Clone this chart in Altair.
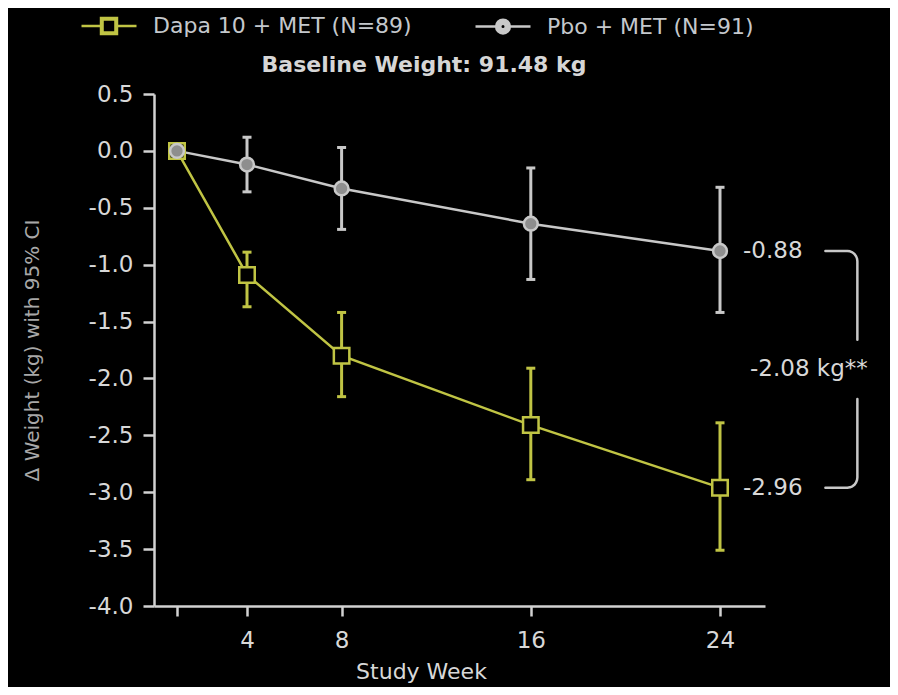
import altair as alt
import numpy as np
import pandas as pd

# ---------------- data ----------------
WEEKS = [0, 4, 8, 16, 24]
SERIES = ["Dapa 10 + MET (N=89)", "Pbo + MET (N=91)"]
DAPA_MEAN = [0.0, -1.09, -1.80, -2.41, -2.96]
DAPA_LO = [None, -1.37, -2.16, -2.89, -3.51]
DAPA_HI = [None, -0.89, -1.42, -1.91, -2.39]
PBO_MEAN = [0.0, -0.12, -0.33, -0.64, -0.88]
PBO_LO = [None, -0.36, -0.69, -1.13, -1.42]
PBO_HI = [None, 0.12, 0.03, -0.15, -0.32]

Y_TICKS = [0.5, 0.0, -0.5, -1.0, -1.5, -2.0, -2.5, -3.0, -3.5, -4.0]
X_TICKS = [0, 4, 8, 16, 24]
END_VALUES = [-0.88, -2.96]
END_LABELS = ["-0.88", "-2.96"]
DIFF_LABEL = "-2.08 kg**"
BASELINE_TEXT = "Baseline Weight: 91.48 kg"
Y_TITLE = "\u0394 Weight (kg) with 95% CI"
X_TITLE = "Study Week"

# ---------------- style ----------------
FONT = "DejaVu Sans"
DAPA_C = "#c0c444"
PBO_C = "#c8c8c8"
AXIS_C = "#d2d2d2"
TEXT_C = "#d8d8d8"

rows = []
for s, m, lo, hi in [(SERIES[0], DAPA_MEAN, DAPA_LO, DAPA_HI),
                     (SERIES[1], PBO_MEAN, PBO_LO, PBO_HI)]:
    for w, v, l, h in zip(WEEKS, m, lo, hi):
        rows.append({"series": s, "week": w, "value": v, "lo": l, "hi": h})
df = pd.DataFrame(rows)

xscale = alt.Scale(domain=[-1.31, 0, 4, 24, 25.9], range=[0, 23, 93, 566, 611],
                   nice=False, zero=False)
yscale = alt.Scale(domain=[-4.0, 0.5], nice=False, zero=False)
cscale = alt.Scale(domain=SERIES, range=[DAPA_C, PBO_C])

xaxis = alt.Axis(values=X_TICKS, title=X_TITLE, grid=False,
                 labelExpr="datum.value == 0 ? '' : datum.label",
                 labelFontSize=23, labelColor=TEXT_C, labelPadding=13,
                 titleFontSize=22, titleColor=TEXT_C, titleFontWeight="normal",
                 titleX=267, titlePadding=9,
                 domainColor=AXIS_C, domainWidth=2.5, tickColor=AXIS_C,
                 tickWidth=2.5, tickSize=10)
yaxis = alt.Axis(values=Y_TICKS, title=Y_TITLE, grid=False,
                 labelExpr="replace(format(datum.value, '.1f'), '\u2212', '-')",
                 labelFontSize=23, labelColor=TEXT_C, labelPadding=10,
                 titleFontSize=20, titleColor="#a8a8a8", titleFontWeight="normal",
                 titlePadding=46,
                 domainColor=AXIS_C, domainWidth=2.5, tickColor=AXIS_C,
                 tickWidth=2.5, tickSize=11)

# legend symbols: line stubs + hollow marker (inner sub-path wound the other way)
SQ_PATH = ("M-2,0L-0.58,0M0.58,0L2,0"
           "M-0.58,-0.58L0.58,-0.58L0.58,0.58L-0.58,0.58Z"
           "M-0.47,-0.47L-0.47,0.47L0.47,0.47L0.47,-0.47Z")
CI_PATH = ("M-2,0L-0.5,0M0.5,0L2,0"
           "M0.5,0A0.5,0.5,0,1,1,-0.5,0A0.5,0.5,0,1,1,0.5,0Z"
           "M0.2,0A0.2,0.2,0,1,0,-0.2,0A0.2,0.2,0,1,0,0.2,0Z")
leg = alt.Legend(orient="none", legendX=-60, legendY=-83, direction="horizontal",
                 title=BASELINE_TEXT, titleOrient="bottom", titleAnchor="middle",
                 titleFontSize=22, titleFontWeight="bold", titleColor="#d6d6d6",
                 titleLimit=900, titlePadding=16,
                 labelFontSize=22, labelColor="#c4c8cc", labelLimit=500,
                 labelOffset=29, columnPadding=58, symbolSize=756,
                 symbolStrokeWidth=2.5, symbolType=SQ_PATH)

X = alt.X("week:Q", scale=xscale, axis=xaxis)
Y = alt.Y("value:Q", scale=yscale, axis=yaxis)
COLOR = alt.Color("series:N", scale=cscale, legend=leg)

leg_df = pd.DataFrame({"series": SERIES})
legend_layer = alt.Chart(leg_df).mark_point(filled=False, clip=True, opacity=1,
                                            size=756, strokeWidth=2.5).encode(
    x=alt.value(-400), y=alt.value(-400),
    color=COLOR,
    shape=alt.Shape("series:N", scale=alt.Scale(domain=SERIES, range=[SQ_PATH, CI_PATH]),
                    legend=leg))

base = alt.Chart(df)

lines = base.mark_line(strokeWidth=2.5).encode(x=X, y=Y, color=COLOR)

bars = base.transform_filter("datum.week > 0").mark_rule(strokeWidth=3).encode(
    x=X,
    y=alt.Y("lo:Q", scale=yscale, axis=yaxis),
    y2="hi:Q",
    color=COLOR)

caps = base.transform_filter("datum.week > 0").transform_fold(
    ["lo", "hi"], as_=["end", "capv"]).mark_tick(
    orient="horizontal", size=9, thickness=3, opacity=1).encode(
    x=X,
    y=alt.Y("capv:Q", scale=yscale, axis=yaxis),
    color=COLOR)

dapa_pts = base.transform_filter(alt.datum.series == SERIES[0]).mark_point(
    shape="square", size=240, filled=True, fill="black", stroke=DAPA_C,
    strokeWidth=2.5, opacity=1).encode(x=X, y=Y)

pbo_pts = base.transform_filter(alt.datum.series == SERIES[1]).mark_point(
    shape="circle", size=190, filled=True, fill="#8e8e8e", stroke=PBO_C,
    strokeWidth=2.5, opacity=1).encode(x=X, y=Y)

# end-of-study annotations
ann_df = pd.DataFrame({"week": [WEEKS[-1]] * 2, "value": END_VALUES, "label": END_LABELS})
ann = alt.Chart(ann_df).mark_text(align="left", baseline="middle", dx=23,
                                  fontSize=23, color=TEXT_C).encode(
    x=X, y=Y, text="label:N")

mid = (END_VALUES[0] + END_VALUES[1]) / 2
diff_df = pd.DataFrame({"week": [WEEKS[-1]], "value": [mid], "label": [DIFF_LABEL]})
diff = alt.Chart(diff_df).mark_text(align="left", baseline="middle", dx=30,
                                    fontSize=23, color=TEXT_C).encode(
    x=X, y=Y, text="label:N")

# bracket geometry (annotation, placed relative to the end values)
BR_X0, BR_XV, RW, RK, GAP = 28.45, 29.80, 0.42, 0.09, 0.26
top, bot = END_VALUES
br = []
o = 0
br.append({"part": "t", "ord": o, "week": BR_X0, "value": top}); o += 1
for a in np.linspace(90, 0, 7):
    r = np.radians(a)
    br.append({"part": "t", "ord": o, "week": BR_XV - RW + RW * np.cos(r),
               "value": top - RK + RK * np.sin(r)}); o += 1
br.append({"part": "t", "ord": o, "week": BR_XV, "value": mid + GAP}); o += 1
br.append({"part": "b", "ord": o, "week": BR_XV, "value": mid - GAP}); o += 1
for a in np.linspace(0, -90, 7):
    r = np.radians(a)
    br.append({"part": "b", "ord": o, "week": BR_XV - RW + RW * np.cos(r),
               "value": bot + RK + RK * np.sin(r)}); o += 1
br.append({"part": "b", "ord": o, "week": BR_X0, "value": bot}); o += 1
br_df = pd.DataFrame(br)
bracket = alt.Chart(br_df).mark_line(strokeWidth=2.5, color=PBO_C,
                                     strokeCap="round", strokeJoin="round").encode(
    x=X, y=Y, order="ord:Q", detail="part:N")

chart = alt.layer(legend_layer, lines, bars, caps, dapa_pts, pbo_pts, ann, diff,
                  bracket).properties(
    width=611, height=512,
    autosize=alt.AutoSizeParams(type="none"),
    padding={"left": 146, "top": 86, "right": 125, "bottom": 81},
    background="black",
).configure(font=FONT).configure_view(stroke=None)

chart.save("out.html", embed_options={"renderer": "svg", "actions": False})
